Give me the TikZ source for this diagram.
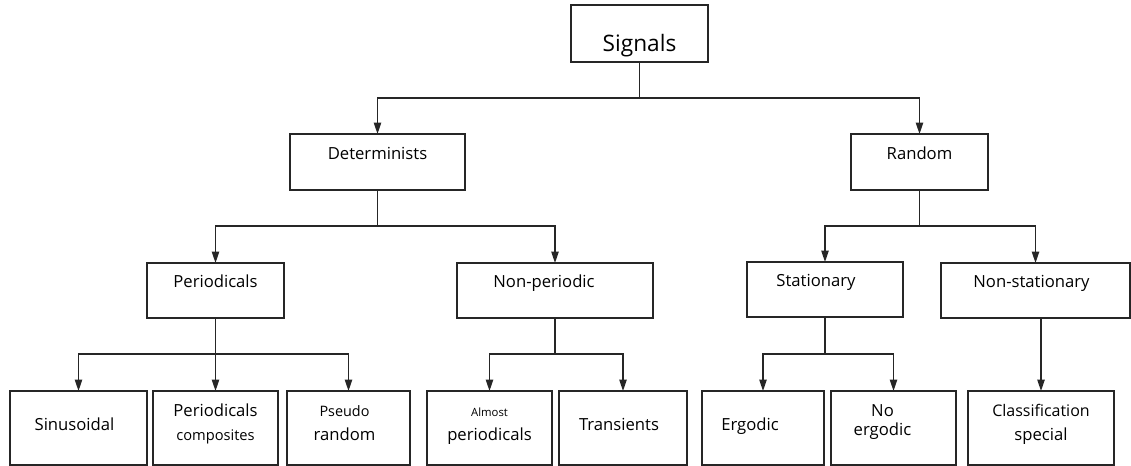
\documentclass[tikz,border=0pt]{standalone}
\usepackage{fontspec}
\setmainfont{Open Sans}
\usetikzlibrary{arrows.meta}
\tikzset{
    sbox/.style={draw=black!85, line width=1.1pt, inner sep=0pt, outer sep=0pt, anchor=north west, align=center, font=\fontsize{12.5}{17.25}\selectfont},
    link/.style={draw=black!85, line width=1pt},
    one/.style={text height=29.25pt, text depth=26.25pt},
    two/.style={text height=36.75pt, text depth=18.75pt},
}
\begin{document}
\begin{tikzpicture}[x=0.75pt,y=-0.75pt,>={Stealth[length=8.5pt,width=5.5pt,inset=0pt]}]
    \useasboundingbox (0,0) rectangle (1131,466);
        % top
        \node[sbox, minimum width=102.75pt, text height=35.25pt, text depth=7.5pt, font=\fontsize{17}{20}\selectfont] (sig) at (571,5) {Signals};
        \node[sbox, minimum width=131.25pt, text height=19.5pt, text depth=22.5pt] (det) at (290,134) {Determinists};
        \node[sbox, minimum width=102.75pt, text height=19.5pt, text depth=22.5pt] (rnd) at (851,134) {Random};
        % second level
        \node[sbox, minimum width=102.75pt, text height=18.75pt, text depth=22.5pt] (per) at (147,263) {Periodicals};
        \node[sbox, minimum width=147pt, text height=18.75pt, text depth=22.5pt] (nper) at (457,263) {Non-periodic\hspace*{16.5pt}};
        \node[sbox, minimum width=117pt, text height=18.75pt, text depth=22.5pt] (sta) at (747,262) {Stationary\hspace*{13.5pt}};
        \node[sbox, minimum width=141.75pt, text height=18.75pt, text depth=22.5pt] (nsta) at (941,263) {Non-stationary\hspace*{6pt}};
        % bottom row
        \node[sbox, one, minimum width=102.75pt] (sin) at (10,391) {Sinusoidal\hspace*{6pt}};
        \node[sbox, two, minimum width=93.75pt] (pcomp) at (153,391) {Periodicals\\{\fontsize{11}{17.25}\selectfont composites}};
        \node[sbox, two, minimum width=92.25pt] (pseu) at (287,391) {{\fontsize{10.8}{17.25}\selectfont Pseudo}\hspace*{6pt}\\random\hspace*{6pt}};
        \node[sbox, two, minimum width=93.75pt] (alm) at (427,391) {{\fontsize{8.5}{17.25}\selectfont Almost}\\periodicals};
        \node[sbox, one, minimum width=96pt] (tra) at (559,391) {Transients\hspace*{6pt}};
        \node[sbox, one, minimum width=91.5pt] (erg) at (702,391) {Ergodic\hspace*{19.5pt}};
        \node[sbox, minimum width=93.75pt, text height=33pt, text depth=22.5pt] (nerg) at (831,391) {No\hspace*{16.5pt}\\[-3.75pt]ergodic\hspace*{16.5pt}};
        \node[sbox, two, minimum width=109.5pt] (cls) at (968,391) {{\fontsize{12}{17.25}\selectfont Classification}\\special};

        % connectors
        \coordinate (j0) at (sig.south |- 0,98);
        \draw[link] (sig) -- (j0);
        \draw[link,->] (j0) -| (det.north);
        \draw[link,->] (j0) -| (rnd.north);

        \coordinate (j1) at (det.south |- 0,226);
        \draw[link] (det) -- (j1);
        \draw[link,->] (j1) -| (per.north);
        \draw[link,->] (j1) -| (nper.north);

        \coordinate (j2) at (rnd.south |- 0,226);
        \draw[link] (rnd) -- (j2);
        \draw[link,->] (j2) -| (sta.north);
        \draw[link,->] (j2) -| (nsta.north);

        \coordinate (j3) at (per.south |- 0,354);
        \draw[link] (per) -- (j3);
        \draw[link,->] (j3) -| (sin.north);
        \draw[link,->] (j3) -- (pcomp.north);
        \draw[link,->] (j3) -| (pseu.north);

        \coordinate (j4) at (nper.south |- 0,354);
        \draw[link] (nper) -- (j4);
        \draw[link,->] (j4) -| (alm.north);
        \draw[link,->] (j4) -| (tra.north);

        \coordinate (j5) at (sta.south |- 0,354);
        \draw[link] (sta) -- (j5);
        \draw[link,->] (j5) -| (erg.north);
        \draw[link,->] (j5) -| (nerg.north);

        \draw[link,->] (nsta.south -| cls.north) -- (cls.north);
    \end{tikzpicture}
\end{document}
